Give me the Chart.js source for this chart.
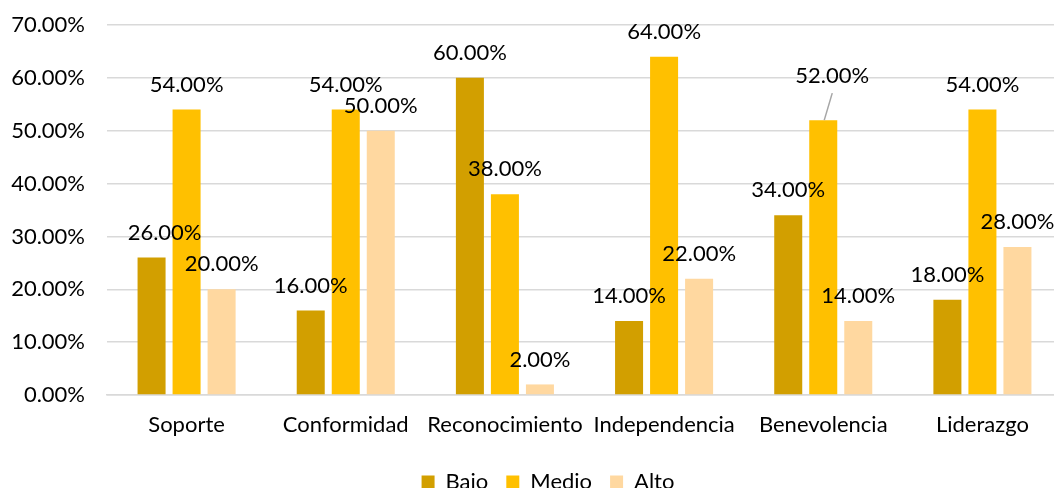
<!DOCTYPE html>
<html>
<head>
<meta charset="utf-8">
<script src="https://cdn.jsdelivr.net/npm/chart.js@4/dist/chart.umd.min.js"></script>
<style>
  html, body { margin: 0; padding: 0; background: #fff; overflow: hidden; }
  #wrap { width: 1054px; height: 488px; overflow: hidden; }
</style>
</head>
<body>
<div id="wrap"><canvas id="c" width="1062" height="503"></canvas></div>
<script>
const categories = ['Soporte', 'Conformidad', 'Reconocimiento', 'Independencia', 'Benevolencia', 'Liderazgo'];
const bajo  = [26, 16, 60, 14, 34, 18];
const medio = [54, 54, 38, 64, 52, 54];
const alto  = [20, 50, 2, 22, 14, 28];
const seriesNames = ['Bajo', 'Medio', 'Alto'];
const yTicks = [0, 10, 20, 30, 40, 50, 60, 70];

const FONT = 'Lato, "Open Sans", sans-serif';
const FS = 22;

// label nudges: key "datasetIndex-index" -> pixel offsets from default spot
const labelNudges = {
  '0-0': { dx: 13, dy: 0 },
  '1-4': { dx: 9, dy: -19, leader: true }
};

const labelPlugin = {
  id: 'barLabels',
  afterLayout(chart) {
    // centre the legend under the plot area rather than the whole canvas
    if (chart.legend) chart.legend.left += 34;
  },
  afterDatasetsDraw(chart) {
    const ctx = chart.ctx;
    ctx.save();
    ctx.font = FS + 'px ' + FONT;
    ctx.fillStyle = '#000';
    ctx.textAlign = 'center';
    ctx.textBaseline = 'middle';
    chart.data.datasets.forEach((ds, di) => {
      const meta = chart.getDatasetMeta(di);
      meta.data.forEach((bar, i) => {
        const n = labelNudges[di + '-' + i] || { dx: 0, dy: 0 };
        const lx = bar.x + n.dx;
        const ly = bar.y - 25 + n.dy;
        if (n.leader) {
          ctx.strokeStyle = '#A6A6A6';
          ctx.lineWidth = 1.5;
          ctx.beginPath();
          ctx.moveTo(lx, ly + 17);
          ctx.lineTo(bar.x + 1, bar.y);
          ctx.stroke();
        }
        ctx.fillText(ds.data[i].toFixed(2) + '%', lx, ly);
      });
    });
    ctx.restore();
  }
};

new Chart(document.getElementById('c'), {
  type: 'bar',
  data: {
    labels: categories,
    datasets: [
      { label: seriesNames[0], data: bajo,  backgroundColor: '#D29F00' },
      { label: seriesNames[1], data: medio, backgroundColor: '#FFC000' },
      { label: seriesNames[2], data: alto,  backgroundColor: '#FFD8A0' }
    ]
  },
  options: {
    responsive: false,
    animation: false,
    devicePixelRatio: 1,
    layout: { padding: { top: 25, left: 0, right: 0, bottom: 0 } },
    datasets: { bar: { categoryPercentage: 0.66, barPercentage: 0.8 } },
    plugins: {
      legend: {
        position: 'bottom',
        labels: {
          font: { family: FONT, size: FS },
          color: '#000',
          boxWidth: 13,
          boxHeight: 13,
          padding: 18
        }
      },
      tooltip: { enabled: false }
    },
    scales: {
      x: {
        grid: { display: false, drawTicks: false },
        border: { color: '#D9D9D9', width: 1.5 },
        ticks: { font: { family: FONT, size: FS }, color: '#000', padding: 17, maxRotation: 0, autoSkip: false },
        afterFit(scale) { scale.height = 58; }
      },
      y: {
        min: 0, max: 70,
        afterBuildTicks(scale) { scale.ticks = yTicks.map(v => ({ value: v })); },
        grid: { color: '#D9D9D9', lineWidth: 1.5, drawTicks: false },
        border: { display: false },
        ticks: {
          font: { family: FONT, size: FS }, color: '#000', padding: 22,
          callback: v => Number(v).toFixed(2) + '%'
        },
        afterFit(scale) { scale.width = 107; scale.paddingTop = 0; scale.paddingBottom = 0; }
      }
    }
  },
  plugins: [labelPlugin]
});
</script>
</body>
</html>
